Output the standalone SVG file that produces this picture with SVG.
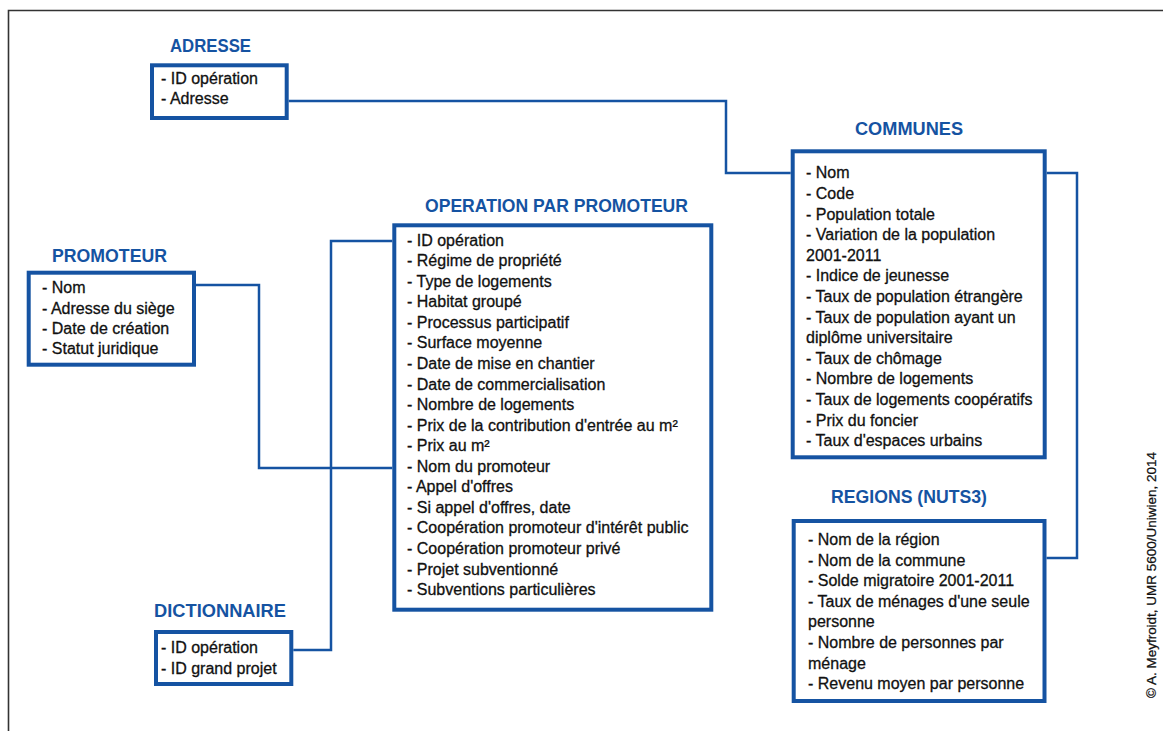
<svg xmlns="http://www.w3.org/2000/svg" width="1163" height="731" viewBox="0 0 1163 731">
<style>
.box{fill:#fff;stroke:#1553a2;stroke-width:4}
.title{font-family:"Liberation Sans",Arial,sans-serif;font-weight:bold;font-size:17.5px;fill:#1553a2}
.item{font-family:"Liberation Sans",Arial,sans-serif;font-size:16px;fill:#111;stroke:#111;stroke-width:0.3}
.conn{fill:none;stroke:#1553a2;stroke-width:2.5}
.frame{fill:none;stroke:#333;stroke-width:1.6}
.copy{font-family:"Liberation Sans",Arial,sans-serif;font-size:12.5px;fill:#111;stroke:#111;stroke-width:0.25}
</style>
<rect width="1163" height="731" fill="#fff"/>
<path class="frame" d="M8.5,731 V10.5 H1163"/>
<g id="connectors">
<path class="conn" d="M288.7,101 H726 V173 H790.7"/>
<path class="conn" d="M1046.7,173 H1077 V558 H1046.5"/>
<path class="conn" d="M196,285 H259 V468 H392.3"/>
<path class="conn" d="M293.3,650 H331 V241 H392.3"/>
</g>
<g id="adresse">
<text class="title" x="170" y="52" textLength="81" lengthAdjust="spacingAndGlyphs">ADRESSE</text>
<rect class="box" x="152" y="65.3" width="134.7" height="52.7"/>
<text class="item"><tspan x="161" y="84">- ID opération</tspan><tspan x="161" y="104">- Adresse</tspan></text>
</g>
<g id="promoteur">
<text class="title" x="52" y="262" textLength="115" lengthAdjust="spacingAndGlyphs">PROMOTEUR</text>
<rect class="box" x="28.7" y="272.7" width="165.3" height="92"/>
<text class="item"><tspan x="42" y="293.3">- Nom</tspan><tspan x="42" y="313.5">- Adresse du siège</tspan><tspan x="42" y="333.7">- Date de création</tspan><tspan x="42" y="353.9">- Statut juridique</tspan></text>
</g>
<g id="operation">
<text class="title" x="425" y="212" textLength="263" lengthAdjust="spacingAndGlyphs">OPERATION PAR PROMOTEUR</text>
<rect class="box" x="394.3" y="225.3" width="317" height="384.4"/>
<text class="item">
<tspan x="407" y="245.7">- ID opération</tspan>
<tspan x="407" y="266.25">- Régime de propriété</tspan>
<tspan x="407" y="286.8">- Type de logements</tspan>
<tspan x="407" y="307.35">- Habitat groupé</tspan>
<tspan x="407" y="327.9">- Processus participatif</tspan>
<tspan x="407" y="348.45">- Surface moyenne</tspan>
<tspan x="407" y="369">- Date de mise en chantier</tspan>
<tspan x="407" y="389.55">- Date de commercialisation</tspan>
<tspan x="407" y="410.1">- Nombre de logements</tspan>
<tspan x="407" y="430.65">- Prix de la contribution d'entrée au m²</tspan>
<tspan x="407" y="451.2">- Prix au m²</tspan>
<tspan x="407" y="471.75">- Nom du promoteur</tspan>
<tspan x="407" y="492.3">- Appel d'offres</tspan>
<tspan x="407" y="512.85">- Si appel d'offres, date</tspan>
<tspan x="407" y="533.4">- Coopération promoteur d'intérêt public</tspan>
<tspan x="407" y="553.95">- Coopération promoteur privé</tspan>
<tspan x="407" y="574.5">- Projet subventionné</tspan>
<tspan x="407" y="595.05">- Subventions particulières</tspan>
</text>
</g>
<g id="communes">
<text class="title" x="855" y="135" textLength="108" lengthAdjust="spacingAndGlyphs">COMMUNES</text>
<rect class="box" x="792.7" y="151.3" width="252" height="306"/>
<text class="item">
<tspan x="806" y="178.3">- Nom</tspan>
<tspan x="806" y="198.9">- Code</tspan>
<tspan x="806" y="219.5">- Population totale</tspan>
<tspan x="806" y="240.1">- Variation de la population</tspan>
<tspan x="806" y="260.7">2001-2011</tspan>
<tspan x="806" y="281.3">- Indice de jeunesse</tspan>
<tspan x="806" y="301.9">- Taux de population étrangère</tspan>
<tspan x="806" y="322.5">- Taux de population ayant un</tspan>
<tspan x="806" y="343.1">diplôme universitaire</tspan>
<tspan x="806" y="363.7">- Taux de chômage</tspan>
<tspan x="806" y="384.3">- Nombre de logements</tspan>
<tspan x="806" y="404.9">- Taux de logements coopératifs</tspan>
<tspan x="806" y="425.5">- Prix du foncier</tspan>
<tspan x="806" y="446.1">- Taux d'espaces urbains</tspan>
</text>
</g>
<g id="regions">
<text class="title" x="831" y="503" textLength="156" lengthAdjust="spacingAndGlyphs">REGIONS (NUTS3)</text>
<rect class="box" x="793.7" y="521" width="250.8" height="180"/>
<text class="item">
<tspan x="808" y="545">- Nom de la région</tspan>
<tspan x="808" y="565.6">- Nom de la commune</tspan>
<tspan x="808" y="586.2">- Solde migratoire 2001-2011</tspan>
<tspan x="808" y="606.8">- Taux de ménages d'une seule</tspan>
<tspan x="808" y="627.4">personne</tspan>
<tspan x="808" y="648">- Nombre de personnes par</tspan>
<tspan x="808" y="668.6">ménage</tspan>
<tspan x="808" y="689.2">- Revenu moyen par personne</tspan>
</text>
</g>
<g id="dictionnaire">
<text class="title" x="154" y="617" textLength="132" lengthAdjust="spacingAndGlyphs">DICTIONNAIRE</text>
<rect class="box" x="156" y="632" width="135.3" height="52"/>
<text class="item"><tspan x="161" y="653.3">- ID opération</tspan><tspan x="161" y="673.5">- ID grand projet</tspan></text>
</g>
<text class="copy" transform="translate(1156,698) rotate(-90)" textLength="246" lengthAdjust="spacingAndGlyphs">© A. Meyfroidt, UMR 5600/Uniwien, 2014</text>
</svg>
